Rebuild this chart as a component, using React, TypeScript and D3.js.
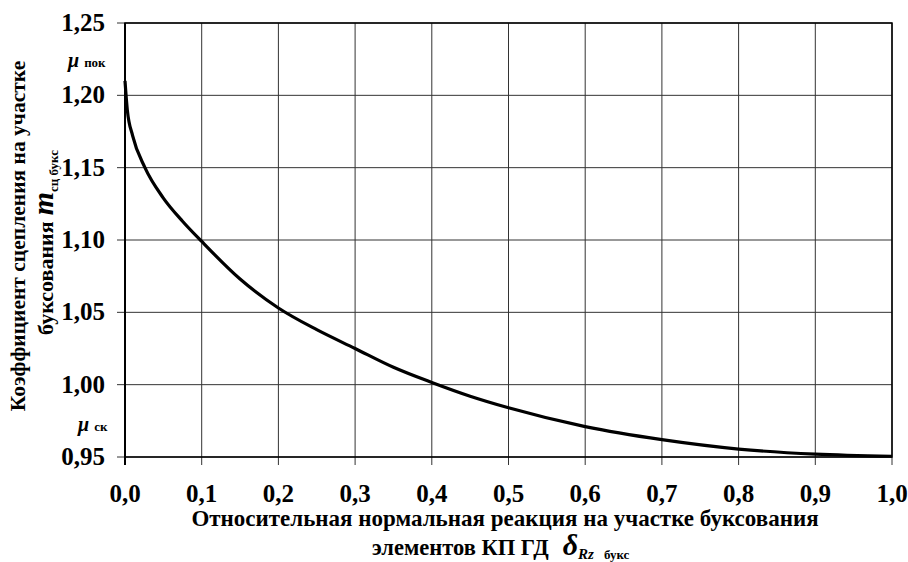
import React from "react";
import * as d3 from "d3";

// Relative normal reaction on the slipping section (x) and adhesion coefficient (y)
const deltaValues = [0, 0.003, 0.01, 0.026, 0.05, 0.075, 0.1, 0.15, 0.2, 0.25, 0.3, 0.35, 0.4, 0.45, 0.5, 0.6, 0.7, 0.8, 0.9, 1.0];
const muValues = [1.21, 1.19, 1.172, 1.15, 1.129, 1.113, 1.099, 1.073, 1.053, 1.038, 1.025, 1.012, 1.0015, 0.992, 0.984, 0.971, 0.962, 0.9555, 0.952, 0.9505];

const xTicks = [0, 0.1, 0.2, 0.3, 0.4, 0.5, 0.6, 0.7, 0.8, 0.9, 1.0];
const yTicks = [0.95, 1.0, 1.05, 1.1, 1.15, 1.2, 1.25];

const W = 908;
const H = 562;
const M = { left: 125, right: 892, top: 23, bottom: 457 };
const FONT = "Liberation Serif, DejaVu Serif, serif";

export default function App() {
  const x = d3.scaleLinear().domain([0, 1]).range([M.left, M.right]);
  const y = d3.scaleLinear().domain([0.95, 1.25]).range([M.bottom, M.top]);

  const fmtX = (v: number) => v.toFixed(1).replace(".", ",");
  const fmtY = (v: number) => v.toFixed(2).replace(".", ",");

  const line = d3
    .line<number>()
    .x((_, i) => x(deltaValues[i]))
    .y((d) => y(d))
    .curve(d3.curveMonotoneX);

  const path = line(muValues) || "";

  return (
    <svg
      width={W}
      height={H}
      style={{ position: "absolute", left: 0, top: 0, background: "#fff", fontFamily: FONT, fontWeight: 700 }}
    >
      {/* grid */}
      {xTicks.map((t) => (
        <line key={"gx" + t} x1={x(t)} x2={x(t)} y1={M.top} y2={M.bottom + 8} stroke="#333" strokeWidth={1} />
      ))}
      {yTicks.map((t) => (
        <line key={"gy" + t} x1={M.left - 8} x2={M.right} y1={y(t)} y2={y(t)} stroke="#333" strokeWidth={1} />
      ))}
      {/* frame */}
      <rect x={M.left} y={M.top} width={M.right - M.left} height={M.bottom - M.top} fill="none" stroke="#000" strokeWidth={1.5} />
      <line x1={M.left} x2={M.left} y1={M.top} y2={M.bottom + 8} stroke="#000" strokeWidth={2} />

      {/* curve */}
      <path d={path} fill="none" stroke="#000" strokeWidth={3.2} />

      {/* tick labels */}
      {xTicks.map((t) => (
        <text key={"tx" + t} x={x(t)} y={502} textAnchor="middle" fontSize={25}>
          {fmtX(t)}
        </text>
      ))}
      {yTicks.map((t) => (
        <text key={"ty" + t} x={105} y={y(t) + 8} textAnchor="end" fontSize={25}>
          {fmtY(t)}
        </text>
      ))}

      {/* mu labels */}
      <text x={68} y={67} fontSize={20}>
        <tspan fontStyle="italic">μ</tspan>
        <tspan fontSize={13} dx={5}>пок</tspan>
      </text>
      <text x={78} y={431} fontSize={20}>
        <tspan fontStyle="italic">μ</tspan>
        <tspan fontSize={13} dx={5}>ск</tspan>
      </text>

      {/* x axis title */}
      <text x={505} y={526} textAnchor="middle" fontSize={23}>
        Относительная нормальная реакция на участке буксования
      </text>
      <text x={372} y={555} fontSize={22.5}>
        элементов КП ГД
        <tspan fontStyle="italic" fontSize={30} dx={14}>δ</tspan>
        <tspan fontStyle="italic" fontSize={15} dy={4}>Rz</tspan>
        <tspan fontSize={13} dx={10} dy={0}>букс</tspan>
      </text>

      {/* y axis title */}
      <text transform={`translate(25, 236) rotate(-90)`} textAnchor="middle" fontSize={21.5}>
        Коэффициент сцепления на участке
      </text>
      <text transform={`translate(53, 335) rotate(-90)`} fontSize={22}>
        буксования
        <tspan fontStyle="italic" fontSize={30} dx={6}>m</tspan>
        <tspan fontSize={13} dy={5}>сц букс</tspan>
      </text>
    </svg>
  );
}
